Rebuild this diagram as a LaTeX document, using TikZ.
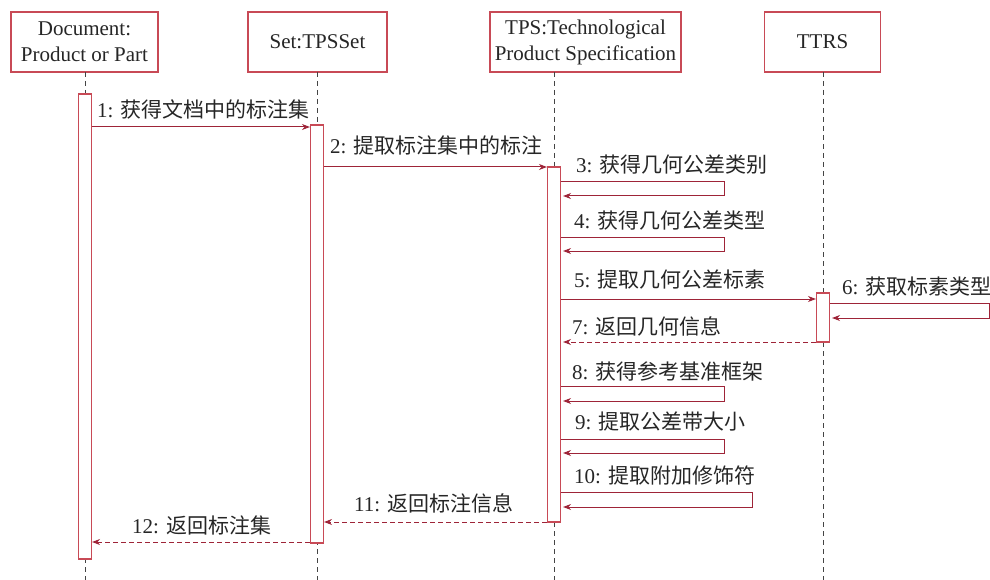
\documentclass[tikz,border=0pt]{standalone}
\usepackage{fontspec}
\setmainfont{Liberation Serif}
\newfontfamily\cjk{Noto Sans CJK SC}
\usetikzlibrary{arrows.meta}
\definecolor{boxred}{HTML}{C84A56}
\definecolor{msgred}{HTML}{9E2438}
\definecolor{lifegray}{HTML}{444444}
\definecolor{txt}{HTML}{262626}
\newcommand{\mlbl}[2]{#1 {\cjk #2}}
\begin{document}
\begin{tikzpicture}[x=1pt,y=-1pt,
  objbox/.style={draw=boxred,line width=1.1pt,fill=white,rectangle,inner sep=0pt,
    text=txt,font=\fontsize{21}{26}\selectfont,align=center},
  actbar/.style={draw=boxred,line width=1.1pt,fill=white,rectangle,inner sep=0pt,minimum width=13pt},
  lifeln/.style={draw=lifegray,line width=0.9pt,dash pattern=on 5pt off 4pt},
  msg/.style={draw=msgred,line width=1pt,-{Stealth[length=8pt,width=6pt]}},
  ret/.style={draw=msgred,line width=1pt,dash pattern=on 5pt off 3pt,-{Stealth[length=8pt,width=6pt]}},
  lbl/.style={anchor=west,inner sep=0pt,text=txt,font=\fontsize{21}{24}\selectfont}]
\useasboundingbox (0,0) rectangle (990,580);
% object boxes
\node[objbox,minimum width=147pt,minimum height=60pt] (b1) at (84.5,42) {Document:\\Product or Part};
\node[objbox,minimum width=139pt,minimum height=60pt] (b2) at (317.5,42) {Set:TPSSet};
\node[objbox,minimum width=191pt,minimum height=60pt] (b3) at (585.5,42) {TPS:Technological\\Product Specification};
\node[objbox,minimum width=116pt,minimum height=60pt] (b4) at (822.5,42) {TTRS};
% lifelines
\coordinate (l1) at (85,72); \coordinate (e1) at (85,580);
\coordinate (l2) at (317,72); \coordinate (e2) at (317,580);
\coordinate (l3) at (554,72); \coordinate (e3) at (554,580);
\coordinate (l4) at (823,72); \coordinate (e4) at (823,580);
\draw[lifeln] (l1) -- (e1);
\draw[lifeln] (l2) -- (e2);
\draw[lifeln] (l3) -- (e3);
\draw[lifeln] (l4) -- (e4);
% activation bars
\node[actbar,minimum height=465pt] (a1) at (85,326.5) {};
\node[actbar,minimum height=418pt] (a2) at (317,334) {};
\node[actbar,minimum height=355pt] (a3) at (554,344.5) {};
\node[actbar,minimum height=49pt] (a4) at (823,317.5) {};
% message 1
\draw[msg] (a1.east |- 0,127) -- (a2.west |- 0,127);
\node[lbl] (t1) at (97,109) {\mlbl{1:}{获得文档中的标注集}};
% message 2
\draw[msg] (a2.east |- 0,167) -- (a3.west |- 0,167);
\node[lbl] (t2) at (330,145) {\mlbl{2:}{提取标注集中的标注}};
% message 3
\draw[msg] (a3.east |- 0,182) -- (724,182) -- (724,196) -- ([xshift=2pt]a3.east |- 0,196);
\node[lbl] (t3) at (576,165) {\mlbl{3:}{获得几何公差类别}};
% message 4
\draw[msg] (a3.east |- 0,237) -- (724,237) -- (724,251) -- ([xshift=2pt]a3.east |- 0,251);
\node[lbl] (t4) at (574,221) {\mlbl{4:}{获得几何公差类型}};
% message 5
\draw[msg] (a3.east |- 0,299) -- (a4.west |- 0,299);
\node[lbl] (t5) at (574,280) {\mlbl{5:}{提取几何公差标素}};
% message 6
\draw[msg] (a4.east |- 0,303) -- (989,303) -- (989,318) -- ([xshift=2pt]a4.east |- 0,318);
\node[lbl] (t6) at (842,287) {\mlbl{6:}{获取标素类型}};
% message 7
\draw[ret] (a4.west |- 0,342) -- ([xshift=2pt]a3.east |- 0,342);
\node[lbl] (t7) at (572,326) {\mlbl{7:}{返回几何信息}};
% message 8
\draw[msg] (a3.east |- 0,386) -- (724,386) -- (724,401) -- ([xshift=2pt]a3.east |- 0,401);
\node[lbl] (t8) at (572,371) {\mlbl{8:}{获得参考基准框架}};
% message 9
\draw[msg] (a3.east |- 0,439) -- (724,439) -- (724,453) -- ([xshift=2pt]a3.east |- 0,453);
\node[lbl] (t9) at (575,422) {\mlbl{9:}{提取公差带大小}};
% message 10
\draw[msg] (a3.east |- 0,492) -- (752,492) -- (752,507) -- ([xshift=2pt]a3.east |- 0,507);
\node[lbl] (t10) at (574,475) {\mlbl{10:}{提取附加修饰符}};
% message 11
\draw[ret] (a3.west |- 0,522) -- (a2.east |- 0,522);
\node[lbl] (t11) at (354,503) {\mlbl{11:}{返回标注信息}};
% message 12
\draw[ret] (a2.west |- 0,542) -- (a1.east |- 0,542);
\node[lbl] (t12) at (132,525) {\mlbl{12:}{返回标注集}};
\end{tikzpicture}
\end{document}
